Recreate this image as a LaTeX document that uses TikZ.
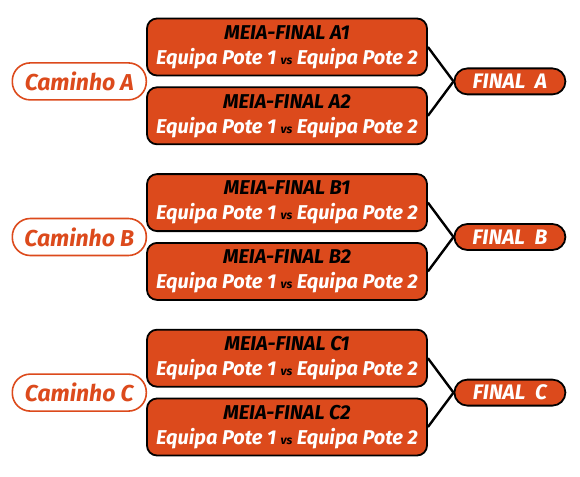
\documentclass[tikz,border=0pt]{standalone}
\usepackage{fontspec}
\setmainfont{Fira Sans}
\usetikzlibrary{positioning,calc}
\definecolor{laranja}{HTML}{DC4A1C}
\newcommand{\jogo}[1]{{\color{black}MEIA-FINAL #1}\\Equipa Pote 1 {\fontsize{12pt}{12pt}\selectfont\color{black}vs} Equipa Pote 2}

\begin{document}
\begin{tikzpicture}[
                  font=\bfseries\itshape\fontsize{20pt}{25pt}\selectfont,
                  meia/.style={rectangle,draw=black,line width=1.8pt,fill=laranja,rounded corners=10pt,
                        minimum width=280pt,minimum height=57pt,align=center,text=white,inner sep=0pt},
                  caminho/.style={rectangle,draw=laranja,line width=1.6pt,fill=white,rounded corners=18pt,
                        minimum width=134pt,minimum height=37pt,text=laranja,inner sep=0pt,
                        font=\bfseries\itshape\fontsize{23pt}{25pt}\selectfont},
                  final/.style={rectangle,draw=black,line width=1.8pt,fill=laranja,rounded corners=13pt,
                        minimum width=111pt,minimum height=26pt,text=white,inner sep=0pt,
                        font=\bfseries\itshape\fontsize{21pt}{25pt}\selectfont},
                  liga/.style={line width=2.4pt},
                  node distance=10pt and 26pt,
            ]
            \useasboundingbox (0,0) rectangle (580pt,-476pt);

            \node[meia] (a1) at (287pt,-47pt) {\jogo{A1}};
            \node[meia] (a2) [below=of a1] {\jogo{A2}};
            \coordinate (ma) at ($(a1.south west)!0.5!(a2.north west)$);
            \node[caminho,anchor=east] (ca) at ([xshift=1pt]ma) {Caminho A};
            \node[final] (fa) at ([xshift=82pt]$(a1.south east)!0.5!(a2.north east)$) {FINAL\ \ A};
            \draw[liga] (a1.east) -- (fa.west);
            \draw[liga] (a2.east) -- (fa.west);

            \node[meia] (b1) [below=28pt of a2] {\jogo{B1}};
            \node[meia] (b2) [below=of b1] {\jogo{B2}};
            \coordinate (mb) at ($(b1.south west)!0.5!(b2.north west)$);
            \node[caminho,anchor=east] (cb) at ([xshift=1pt]mb) {Caminho B};
            \node[final] (fb) at ([xshift=82pt]$(b1.south east)!0.5!(b2.north east)$) {FINAL\ \ B};
            \draw[liga] (b1.east) -- (fb.west);
            \draw[liga] (b2.east) -- (fb.west);

            \node[meia] (c1) [below=28pt of b2] {\jogo{C1}};
            \node[meia] (c2) [below=of c1] {\jogo{C2}};
            \coordinate (mc) at ($(c1.south west)!0.5!(c2.north west)$);
            \node[caminho,anchor=east] (cc) at ([xshift=1pt]mc) {Caminho C};
            \node[final] (fc) at ([xshift=82pt]$(c1.south east)!0.5!(c2.north east)$) {FINAL\ \ C};
            \draw[liga] (c1.east) -- (fc.west);
            \draw[liga] (c2.east) -- (fc.west);
      \end{tikzpicture}
\end{document}
